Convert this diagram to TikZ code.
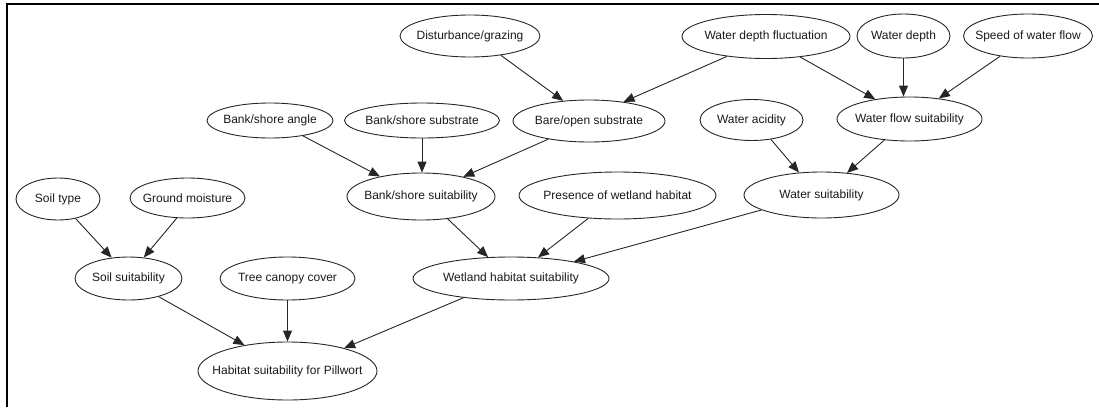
\documentclass[tikz,border=0pt]{standalone}
\usepackage{fontspec}
\setmainfont{Liberation Sans}
\usetikzlibrary{shapes.geometric,arrows.meta}
\newcommand{\nodetext}[1]{\makebox[0pt]{#1}}
\tikzset{
  nd/.style={ellipse, draw=black!85, line width=0.9pt, inner sep=0pt,
    font=\fontsize{12}{14}\selectfont, text=black!90},
  edge/.style={draw=black!85, line width=0.9pt, -{Triangle[length=11pt,width=9pt]}},
  frame/.style={line width=2pt, black}
}
\begin{document}
\begin{tikzpicture}[x=1pt,y=-1pt]
\useasboundingbox (0,0) rectangle (1099,407);
\coordinate (fa) at (7,407);
\coordinate (fb) at (7,4);
\coordinate (fc) at (1099,4);
\draw[frame] (fa) -- (fb) -- (fc);

% top row
\node[nd, minimum width=140pt, minimum height=42pt] (dist) at (470,36) {\nodetext{Disturbance/grazing}};
\node[nd, minimum width=168pt, minimum height=44pt] (wdf) at (766,36.5) {\nodetext{Water depth fluctuation}};
\node[nd, minimum width=93pt, minimum height=44pt] (wd) at (903.5,36) {\nodetext{Water depth}};
\node[nd, minimum width=129pt, minimum height=44pt] (sow) at (1028,36) {\nodetext{Speed of water flow}};

% second row
\node[nd, minimum width=126pt, minimum height=35pt] (bsa) at (270,120.5) {\nodetext{Bank/shore angle}};
\node[nd, minimum width=155pt, minimum height=35pt] (bsub) at (422,120.5) {\nodetext{Bank/shore substrate}};
\node[nd, minimum width=152pt, minimum height=42pt] (bare) at (589,121) {\nodetext{Bare/open substrate}};
\node[nd, minimum width=103pt, minimum height=41pt] (wa) at (751.5,120) {\nodetext{Water acidity}};
\node[nd, minimum width=145pt, minimum height=44pt] (wfs) at (909.5,119) {\nodetext{Water flow suitability}};

% third row
\node[nd, minimum width=84pt, minimum height=42pt] (st) at (58,199) {\nodetext{Soil type}};
\node[nd, minimum width=115pt, minimum height=40pt] (gm) at (187.5,198) {\nodetext{Ground moisture}};
\node[nd, minimum width=148pt, minimum height=47pt] (bss) at (421,196.5) {\nodetext{Bank/shore suitability}};
\node[nd, minimum width=197pt, minimum height=47pt] (pwh) at (617.5,195.5) {\nodetext{Presence of wetland habitat}};
\node[nd, minimum width=155pt, minimum height=46pt] (ws) at (821.5,195) {\nodetext{Water suitability}};

% fourth row
\node[nd, minimum width=107pt, minimum height=43pt] (ss) at (128.5,278.5) {\nodetext{Soil suitability}};
\node[nd, minimum width=135pt, minimum height=43pt] (tcc) at (287.5,278.5) {\nodetext{Tree canopy cover}};
\node[nd, minimum width=196pt, minimum height=43pt] (wh) at (511,278.5) {\nodetext{Wetland habitat suitability}};

% bottom
\node[nd, minimum width=179pt, minimum height=58pt] (hab) at (287.5,371) {\nodetext{Habitat suitability for Pillwort}};

% edges
\draw[edge] (dist.-32) -- (bare.142);
\draw[edge] (wdf.-153) -- (bare.29);
\draw[edge] (wdf.-31) -- (wfs.150);
\draw[edge] (wd.south) -- (wd.south |- wfs.north);
\draw[edge] (sow.-144) -- (wfs.35);
\draw[edge] (bsa.-25) -- (bss.154);
\draw[edge] (bsub.south) -- (bsub.south |- bss.north);
\draw[edge] (bare.-156) -- (bss.25);
\draw[edge] (wa.-45) -- (ws.135);
\draw[edge] (wfs.-140) -- (ws.41);
\draw[edge] (st.-48) -- (ss.129);
\draw[edge] (gm.-118) -- (ss.54);
\draw[edge] (bss.-40) -- (wh.137);
\draw[edge] (pwh.-142) -- (wh.38);
\draw[edge] (ws.-166) -- (wh.15);
\draw[edge] (ss.-31) -- (hab.149);
\draw[edge] (tcc.south) -- (tcc.south |- hab.north);
\draw[edge] (wh.-158) -- (hab.22);
\end{tikzpicture}
\end{document}
